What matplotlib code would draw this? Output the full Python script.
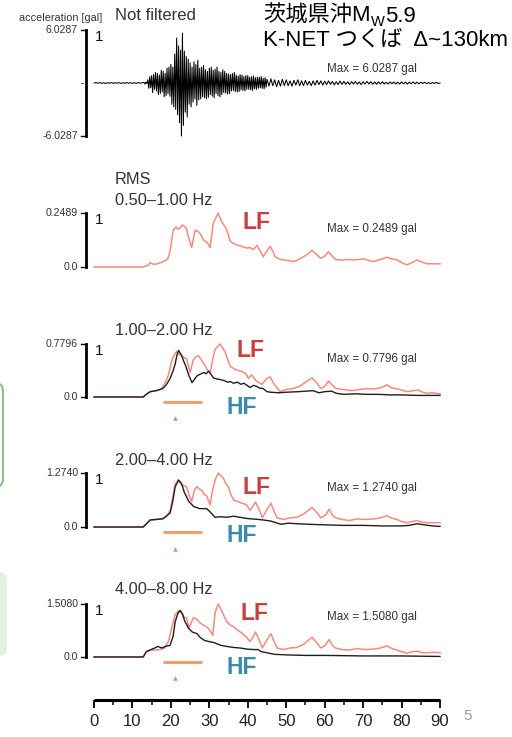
import numpy as np
import matplotlib
matplotlib.use("Agg")
import matplotlib.pyplot as plt
import matplotlib.transforms as mtransforms
from matplotlib.patches import FancyBboxPatch

plt.rcParams['font.family'] = ['Liberation Sans', 'Noto Sans CJK JP']

# ---------------------------------------------------------------- data
# Unfiltered acceleration, normalised by its peak (6.0287 gal)
wave_peak = 6.0287
wave_pre = [0.0, 0.006, -0.004, 0.008, -0.006, 0.004, -0.008, 0.006, -0.005, 0.007,
            -0.006, 0.005, -0.004, 0.006, -0.007, 0.005, -0.006, 0.008, -0.005, 0.006,
            -0.007, 0.005, -0.006, 0.007, -0.005, 0.006]          # 0 .. 12.5 s, 0.5 s step
wave_main = [0.01, -0.02, 0.015, -0.01,
             0.06, -0.10, 0.12, -0.09,
             0.14, -0.18, 0.16, -0.12,
             0.20, -0.15, 0.18, -0.22,
             0.15, -0.20, 0.24, -0.17,
             0.22, -0.26, 0.18, -0.24,
             0.28, -0.20, 0.30, -0.25,
             0.35, -0.40, 0.30, -0.45,
             0.55, -0.50, 0.85, -0.60,
             0.70, -0.75, 0.62, -1.00,
             0.94, -0.80, 0.60, -0.55,
             0.50, -0.64, 0.45, -0.40,
             0.38, -0.45, 0.30, -0.36,
             0.40, -0.30, 0.35, -0.42,
             0.43, -0.32, 0.28, -0.30,
             0.30, -0.26, 0.33, -0.28,
             0.25, -0.30, 0.22, -0.27,
             0.28, -0.22, 0.30, -0.25,
             0.24, -0.28, 0.26, -0.20,
             0.30, -0.24, 0.22, -0.26,
             0.20, -0.22, 0.25, -0.18,
             0.22, -0.19, 0.18, -0.21,
             0.17, -0.20, 0.16, -0.15,
             0.18, -0.14, 0.20, -0.16,
             0.15, -0.17, 0.13, -0.16,
             0.16, -0.13, 0.15, -0.14,
             0.12, -0.15, 0.14, -0.12,
             0.14, -0.12, 0.11, -0.13,
             0.12, -0.14, 0.13, -0.11,
             0.10, -0.12, 0.11, -0.10,
             0.11, -0.09, 0.12, -0.10,
             0.09, -0.11, 0.10, -0.08]                    # 13 .. 44.75 s, 0.25 s step
wave_coda = [0.07, -0.06, 0.08, -0.05, 0.06, -0.07, 0.05, -0.06, 0.07, -0.05,
             0.06, -0.05, 0.04, -0.06, 0.05, -0.04, 0.06, -0.05, 0.04, -0.05,
             0.05, -0.04, 0.03, -0.05, 0.04, -0.04, 0.05, -0.03, 0.04, -0.04,
             0.035, -0.03, 0.04, -0.025, 0.03, -0.035, 0.025, -0.03, 0.035, -0.025,
             0.03, -0.025, 0.02, -0.03, 0.025, -0.02, 0.03, -0.025, 0.02, -0.03,
             0.025, -0.02, 0.03, -0.02, 0.025, -0.025, 0.02, -0.025, 0.02, -0.02,
             0.025, -0.02, 0.015, -0.02, 0.02, -0.015, 0.02, -0.02, 0.015, -0.02,
             0.02, -0.015, 0.015, -0.02, 0.015, -0.015, 0.02, -0.015, 0.015, -0.015,
             0.015, -0.01, 0.015, -0.015, 0.01, -0.015, 0.01, -0.01, 0.015, -0.01,
             0.0]                                          # 45 .. 90 s, 0.5 s step

# RMS envelopes (time [s], value relative to the band maximum)
lf_05_10 = [(0, 0), (12.8, 0), (14.0, 0.03), (14.6, 0.08), (15.5, 0.05), (16.5, 0.06),
            (18.0, 0.10), (19.2, 0.15), (19.8, 0.30), (20.6, 0.68), (21.4, 0.74),
            (21.8, 0.70), (22.4, 0.72), (23.0, 0.78), (24.0, 0.72), (24.6, 0.55),
            (25.4, 0.36), (26.3, 0.68), (27.0, 0.66), (27.6, 0.62), (28.5, 0.50),
            (29.5, 0.45), (30.2, 0.36), (31.0, 0.80), (31.6, 0.90), (32.3, 1.00),
            (33.2, 0.84), (34.5, 0.70), (35.4, 0.48), (36.2, 0.44), (37.1, 0.41),
            (38.5, 0.38), (39.7, 0.35), (40.6, 0.36), (41.4, 0.32), (42.4, 0.40),
            (43.2, 0.30), (44.0, 0.19), (45.0, 0.30), (45.8, 0.38), (46.5, 0.30),
            (47.1, 0.19), (48.2, 0.15), (49.3, 0.13), (50.5, 0.12), (51.9, 0.10),
            (53.2, 0.14), (54.5, 0.19), (55.6, 0.24), (56.7, 0.31), (57.8, 0.24),
            (58.9, 0.16), (60.0, 0.20), (61.0, 0.28), (62.0, 0.20), (62.8, 0.14),
            (64.0, 0.13), (65.0, 0.13), (66.3, 0.14), (67.6, 0.13), (69.0, 0.14),
            (70.2, 0.15), (71.5, 0.12), (72.8, 0.10), (74.5, 0.14), (76.2, 0.18),
            (77.5, 0.15), (78.8, 0.13), (80.0, 0.08), (81.4, 0.04), (82.7, 0.08),
            (84.0, 0.13), (85.3, 0.09), (86.6, 0.06), (88.3, 0.06), (90.0, 0.06)]

lf_10_20 = [(0, 0), (12.8, 0), (13.6, 0.05), (14.6, 0.10), (15.4, 0.11), (16.2, 0.12),
            (17.0, 0.13), (17.6, 0.16), (18.4, 0.25), (19.3, 0.40), (20.0, 0.62),
            (20.6, 0.76), (21.5, 0.86), (22.2, 0.80), (22.8, 0.78), (23.5, 0.74),
            (24.1, 0.72), (25.0, 0.46), (25.8, 0.70), (26.5, 0.76), (27.2, 0.78),
            (27.9, 0.70), (28.5, 0.64), (29.4, 0.52), (30.2, 0.45), (30.9, 0.72),
            (31.5, 0.90), (32.2, 0.96), (32.8, 1.00), (33.5, 0.92), (34.1, 0.85),
            (34.8, 0.70), (35.4, 0.58), (36.5, 0.53), (37.5, 0.50), (38.5, 0.48),
            (39.5, 0.44), (40.2, 0.35), (41.0, 0.42), (42.2, 0.30), (43.7, 0.24),
            (44.8, 0.34), (45.8, 0.38), (46.8, 0.25), (48.4, 0.10), (50.0, 0.14),
            (51.9, 0.16), (53.5, 0.20), (55.0, 0.28), (56.7, 0.36), (57.8, 0.28),
            (59.0, 0.16), (60.0, 0.20), (61.0, 0.30), (62.0, 0.22), (63.0, 0.16),
            (65.0, 0.14), (67.0, 0.12), (69.0, 0.14), (71.0, 0.16), (73.0, 0.15),
            (74.8, 0.18), (76.2, 0.23), (77.5, 0.17), (79.0, 0.15), (80.5, 0.12),
            (81.7, 0.10), (83.0, 0.12), (84.3, 0.13), (85.5, 0.09), (86.8, 0.07),
            (88.0, 0.08), (90.0, 0.06)]
hf_10_20 = [(0, 0), (12.8, 0), (13.6, 0.05), (14.6, 0.10), (16.2, 0.12), (17.9, 0.16),
            (18.8, 0.23), (19.8, 0.35), (20.6, 0.50), (21.1, 0.62), (21.6, 0.80),
            (22.0, 0.88), (22.5, 0.82), (22.8, 0.78), (23.3, 0.68), (23.9, 0.58),
            (24.7, 0.40), (25.5, 0.27), (26.1, 0.33), (26.8, 0.40), (27.6, 0.43),
            (28.5, 0.46), (29.2, 0.44), (29.8, 0.49), (30.5, 0.42), (31.1, 0.36),
            (32.0, 0.34), (32.8, 0.33), (33.8, 0.31), (34.8, 0.28), (35.5, 0.29),
            (36.3, 0.26), (37.3, 0.28), (38.2, 0.24), (39.0, 0.26), (40.0, 0.21),
            (40.6, 0.18), (41.5, 0.22), (42.3, 0.20), (43.0, 0.17), (44.0, 0.16),
            (45.0, 0.10), (46.0, 0.09), (48.0, 0.08), (50.0, 0.09), (53.0, 0.10),
            (55.0, 0.11), (57.0, 0.12), (58.5, 0.08), (60.0, 0.10), (61.8, 0.11),
            (63.0, 0.07), (65.0, 0.05), (68.0, 0.06), (71.0, 0.05), (74.0, 0.05),
            (77.0, 0.04), (80.0, 0.04), (84.0, 0.03), (90.0, 0.03)]

lf_20_40 = [(0, 0), (12.8, 0), (13.8, 0.07), (14.6, 0.13), (16.2, 0.14), (17.8, 0.16),
            (18.8, 0.20), (19.8, 0.30), (20.5, 0.55), (21.1, 0.80), (22.0, 0.87),
            (22.8, 0.78), (23.6, 0.76), (24.1, 0.74), (24.8, 0.58), (25.4, 0.47),
            (26.1, 0.68), (26.8, 0.75), (27.4, 0.70), (28.0, 0.68), (28.7, 0.60),
            (29.3, 0.58), (30.2, 0.41), (30.9, 0.70), (31.5, 0.87), (32.3, 1.00),
            (33.0, 0.95), (33.6, 0.91), (34.3, 0.80), (35.0, 0.74), (35.6, 0.60),
            (36.3, 0.50), (37.5, 0.47), (38.5, 0.44), (39.7, 0.41), (40.6, 0.31),
            (41.3, 0.38), (42.0, 0.46), (42.8, 0.35), (43.8, 0.17), (44.8, 0.30),
            (46.0, 0.44), (46.8, 0.30), (47.6, 0.17), (49.3, 0.14), (51.0, 0.17),
            (52.8, 0.18), (54.5, 0.24), (56.7, 0.36), (57.8, 0.28), (59.0, 0.17),
            (60.2, 0.22), (61.2, 0.33), (62.0, 0.22), (62.8, 0.17), (64.5, 0.14),
            (66.4, 0.12), (68.5, 0.15), (70.5, 0.14), (72.8, 0.15), (74.5, 0.17),
            (76.2, 0.21), (77.5, 0.16), (78.8, 0.14), (80.0, 0.10), (81.4, 0.08),
            (82.7, 0.10), (84.0, 0.12), (85.3, 0.09), (86.6, 0.08), (88.3, 0.08),
            (90.0, 0.08)]
hf_20_40 = [(0, 0), (12.8, 0), (13.8, 0.07), (14.6, 0.13), (17.9, 0.15), (18.8, 0.20),
            (19.8, 0.26), (20.5, 0.48), (21.1, 0.74), (22.0, 0.87), (22.8, 0.80),
            (23.5, 0.64), (24.7, 0.47), (25.9, 0.38), (27.5, 0.34), (29.3, 0.34),
            (30.2, 0.28), (31.5, 0.18), (33.0, 0.19), (34.5, 0.18), (36.3, 0.20),
            (38.0, 0.18), (39.5, 0.16), (41.0, 0.15), (42.7, 0.14), (44.0, 0.13),
            (46.0, 0.11), (48.6, 0.05), (50.5, 0.07), (53.0, 0.06), (56.0, 0.05),
            (60.0, 0.04), (65.0, 0.03), (70.0, 0.03), (75.0, 0.02), (80.0, 0.02),
            (82.0, 0.03), (84.0, 0.06), (86.0, 0.04), (88.0, 0.02), (90.0, 0.01)]

lf_40_80 = [(0, 0), (12.8, 0), (13.6, 0.10), (14.6, 0.13), (16.0, 0.13), (17.2, 0.14),
            (18.4, 0.17), (19.4, 0.30), (20.2, 0.55), (21.1, 0.80), (22.0, 0.87),
            (22.8, 0.84), (23.6, 0.74), (24.1, 0.74), (24.7, 0.54), (25.3, 0.65),
            (25.8, 0.74), (26.8, 0.71), (27.6, 0.64), (28.5, 0.60), (29.3, 0.57),
            (30.2, 0.50), (30.9, 0.41), (31.5, 0.84), (32.3, 1.00), (33.0, 0.90),
            (33.8, 0.78), (34.5, 0.67), (35.5, 0.60), (36.3, 0.57), (37.5, 0.50),
            (38.5, 0.45), (39.7, 0.37), (40.6, 0.29), (41.4, 0.38), (42.0, 0.47),
            (42.8, 0.35), (43.8, 0.17), (44.8, 0.30), (46.0, 0.44), (46.8, 0.30),
            (47.6, 0.17), (49.3, 0.14), (51.0, 0.17), (52.8, 0.18), (54.5, 0.24),
            (56.7, 0.37), (57.8, 0.28), (59.0, 0.17), (60.2, 0.22), (61.2, 0.33),
            (62.0, 0.22), (62.8, 0.17), (64.5, 0.14), (66.4, 0.13), (68.5, 0.16),
            (70.5, 0.14), (72.8, 0.15), (74.5, 0.17), (76.2, 0.21), (77.5, 0.16),
            (78.8, 0.13), (80.0, 0.10), (81.4, 0.07), (82.7, 0.10), (84.0, 0.11),
            (85.3, 0.08), (86.6, 0.08), (88.3, 0.09), (90.0, 0.08)]
hf_40_80 = [(0, 0), (12.8, 0), (13.6, 0.10), (14.8, 0.14), (15.8, 0.17), (16.6, 0.20),
            (17.6, 0.17), (18.6, 0.20), (19.8, 0.22), (20.6, 0.40), (21.1, 0.66),
            (21.8, 0.82), (22.4, 0.88), (23.0, 0.81), (23.6, 0.68), (24.6, 0.54),
            (25.6, 0.47), (26.8, 0.44), (27.6, 0.37), (28.8, 0.31), (30.0, 0.29),
            (31.3, 0.27), (33.0, 0.22), (34.5, 0.20), (36.3, 0.18), (38.0, 0.17),
            (39.7, 0.15), (41.5, 0.14), (42.7, 0.14), (43.5, 0.10), (45.0, 0.08),
            (47.0, 0.05), (50.0, 0.04), (55.0, 0.03), (60.0, 0.03), (70.0, 0.02),
            (80.0, 0.02), (90.0, 0.01)]

band_labels = ["0.50\u20131.00 Hz", "1.00\u20132.00 Hz", "2.00\u20134.00 Hz", "4.00\u20138.00 Hz"]
band_max = [0.2489, 0.7796, 1.2740, 1.5080]
band_lf = [lf_05_10, lf_10_20, lf_20_40, lf_40_80]
band_hf = [None, hf_10_20, hf_20_40, hf_40_80]

# time window used for the HF measurement and the S arrival marker
window_start, window_end = 18.0, 28.1
arrival_t = 21.1

x_ticks = list(range(0, 91, 10))

# ---------------------------------------------------------------- layout
W, H = 512, 737
X0, X1 = 94, 440
panel_px = [(213, 267, 222, 229), (344, 397, 350, 359), (473, 527, 487, 488), (604, 657, 613, 617)]
hf_label_y = [None, 407, 536, 668]
lf_label_x = [243, 237, 243, 240]
title_y = [200.7, 330, 460, 590]

C_LF_LINE = '#f58a80'
C_LF_TEXT = '#c8403f'
C_HF_TEXT = '#3a8da7'
C_HF_LINE = '#1e1e1e'
C_WIN = '#f39c6c'
C_ARR = '#ef7a72'
C_TXT = '#333333'

fig = plt.figure(figsize=(W / 100, H / 100), dpi=100)


def px_axes(left, top, right, bottom):
    ax = fig.add_axes([left / W, 1 - bottom / H, (right - left) / W, (bottom - top) / H])
    ax.axis('off')
    return ax


overlay = fig.add_axes([0, 0, 1, 1])
overlay.set_xlim(0, W)
overlay.set_ylim(H, 0)
overlay.axis('off')

# side boxes at the left edge
overlay.add_patch(FancyBboxPatch((-30, 383), 33, 104, boxstyle="round,pad=0,rounding_size=8",
                                 fc='none', ec='#74c274', lw=1.3, clip_on=False))
overlay.add_patch(FancyBboxPatch((-30, 572), 37, 84, boxstyle="round,pad=0,rounding_size=8",
                                 fc='#e3f1e3', ec='none', clip_on=False))

BAR_X = (86 - X0) / (X1 - X0)
TICK_X = (81 - X0) / (X1 - X0)
LAB_X = (78 - X0) / (X1 - X0)
ONE_X = (95 - X0) / (X1 - X0)


def scale_bar(ax, lo, hi, lo_txt, hi_txt, mid=None):
    tr = mtransforms.blended_transform_factory(ax.transAxes, ax.transData)
    ax.plot([BAR_X, BAR_X], [lo, hi], transform=tr, color='k', lw=2.0,
            solid_capstyle='projecting', clip_on=False)
    for v in (lo, hi):
        ax.plot([TICK_X, BAR_X], [v, v], transform=tr, color='k', lw=1.0, clip_on=False)
    if mid is not None:
        ax.plot([TICK_X, TICK_X + 0.006], [mid, mid], transform=tr, color='#666', lw=0.8,
                clip_on=False)
    ax.text(LAB_X, hi, hi_txt, transform=tr, ha='right', va='center', fontsize=7.6, color=C_TXT)
    ax.text(LAB_X, lo, lo_txt, transform=tr, ha='right', va='center', fontsize=7.6, color=C_TXT)
    ax.text(ONE_X, hi, '1', transform=tr, ha='left', va='top', fontsize=11, color='#111')


# unfiltered waveform
ax0 = px_axes(X0, 30, X1, 136)
ax0.set_xlim(0, 90)
ax0.set_ylim(-wave_peak, wave_peak)
t_pre = 0.0 + 0.5 * np.arange(len(wave_pre))
t_main = 13.0 + 0.25 * np.arange(len(wave_main))
t_coda = 45.0 + 0.5 * np.arange(len(wave_coda))
t_wave = np.concatenate([t_pre, t_main, t_coda])
a_wave = np.concatenate([wave_pre, wave_main, wave_coda]) * wave_peak
ax0.plot(t_wave, a_wave, color='k', lw=0.75, clip_on=False)
scale_bar(ax0, -wave_peak, wave_peak, '-6.0287', '6.0287', mid=0)
overlay.text(102, 18, 'acceleration [gal]', ha='right', va='center', fontsize=7.8, color=C_TXT)
overlay.text(115, 15, 'Not filtered', ha='left', va='center', fontsize=12, color=C_TXT)
overlay.text(372, 69, 'Max = %.4f gal' % wave_peak, ha='center', va='center', fontsize=8.4, color=C_TXT)

overlay.text(115, 179, 'RMS', ha='left', va='center', fontsize=11.8, color=C_TXT)

for i, (top, base, lf_y, max_y) in enumerate(panel_px):
    mx = band_max[i]
    ax = px_axes(X0, top, X1, base)
    ax.set_xlim(0, 90)
    ax.set_ylim(0, mx)
    t, v = zip(*band_lf[i])
    ax.plot(t, np.array(v) * mx, color=C_LF_LINE, lw=1.1, clip_on=False)
    if band_hf[i] is not None:
        t, v = zip(*band_hf[i])
        ax.plot(t, np.array(v) * mx, color=C_HF_LINE, lw=1.0, clip_on=False)
        ax.plot([window_start, window_end], [-0.095 * mx] * 2, color=C_WIN, lw=2.2,
                solid_capstyle='butt', clip_on=False)
        ax.plot([arrival_t], [-0.40 * mx], marker='^', ms=3.2, color=C_ARR, mec='none',
                clip_on=False)
        overlay.text(227, hf_label_y[i], 'HF', ha='left', va='center', fontsize=16.5,
                     fontweight='bold', color=C_HF_TEXT)
    scale_bar(ax, 0, mx, '0.0', '%.4f' % mx)
    overlay.text(115, title_y[i], band_labels[i], ha='left', va='center', fontsize=11.8, color=C_TXT)
    overlay.text(lf_label_x[i], lf_y, 'LF', ha='left', va='center', fontsize=16.5,
                 fontweight='bold', color=C_LF_TEXT)
    overlay.text(372, max_y, 'Max = %.4f gal' % mx, ha='center', va='center', fontsize=8.4,
                 color=C_TXT)

# time axis
axx = fig.add_axes([X0 / W, 1 - 700 / H, (X1 - X0) / W, 20 / H])
axx.patch.set_visible(False)
for s in ('top', 'left', 'right'):
    axx.spines[s].set_visible(False)
axx.spines['bottom'].set_linewidth(2.2)
axx.spines['bottom'].set_capstyle('butt')
axx.set_xlim(0, 90)
axx.set_yticks([])
axx.set_xticks(x_ticks)
axx.set_xticks(list(range(5, 90, 10)), minor=True)
axx.tick_params(axis='x', which='major', direction='out', length=6, width=1.3, pad=4,
                labelsize=12, labelcolor='#222')
axx.tick_params(axis='x', which='minor', direction='out', length=3.5, width=1.1)

# event caption
t1 = overlay.text(263, 16, '茨城県沖M', ha='left', va='center', fontsize=16, color='k')
w_sub = overlay.annotate('W', xy=(1, 0), xycoords=t1, xytext=(0.3, -1.5), textcoords='offset points',
                         ha='left', va='bottom', fontsize=10.5, color='k')
overlay.annotate('5.9', xy=(1, 0.5), xycoords=(w_sub, t1), ha='left', va='center',
                 fontsize=16, color='k')
overlay.text(263, 40, 'K-NET つくば  Δ~130km', ha='left', va='center', fontsize=16, color='k')

overlay.text(468, 716, '5', ha='center', va='center', fontsize=11, color='#9a9a9a')

fig.savefig('out.png', dpi=100)
